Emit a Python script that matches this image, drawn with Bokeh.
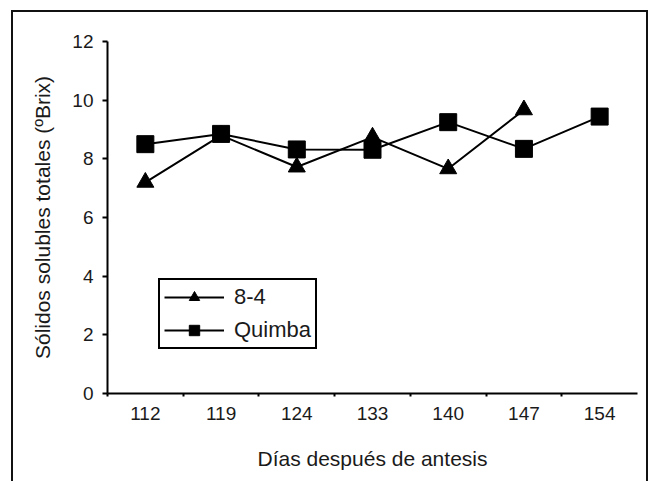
from bokeh.plotting import figure
from bokeh.models import FixedTicker, Legend, InlineStyleSheet
from bokeh.embed import file_html
from bokeh.resources import INLINE

categories = ["112", "119", "124", "133", "140", "147", "154"]
serie_84 = [7.2, 8.8, 7.72, 8.74, 7.66, 9.67]
serie_quimba = [8.5, 8.85, 8.32, 8.31, 9.25, 8.34, 9.44]
y_ticks = [0, 2, 4, 6, 8, 10, 12]

FONT = "Liberation Sans"

pos_all = [i + 0.5 for i in range(len(categories))]
pos_84 = pos_all[:len(serie_84)]

frame_css = InlineStyleSheet(css="""
:host { position: relative; }
:host::after {
  content: "";
  position: absolute;
  left: 11px; top: 10px; right: 0px; bottom: -4px;
  border: 2px solid #111;
  border-bottom: none;
  pointer-events: none;
  z-index: 10;
}
""")

p = figure(width=648, height=477, output_backend="svg", toolbar_location=None,
           x_range=(0, len(categories)), y_range=(0, 12),
           min_border_left=107, min_border_right=11, min_border_top=41, min_border_bottom=84,
           stylesheets=[frame_css])
p.outline_line_color = None
p.grid.grid_line_color = None
p.background_fill_color = "white"
p.border_fill_color = "white"

l1 = p.line(pos_84, serie_84, line_color="black", line_width=2)
m1 = p.scatter(pos_84, serie_84, marker="triangle", size=17, color="black")
l2 = p.line(pos_all, serie_quimba, line_color="black", line_width=2)
m2 = p.scatter(pos_all, serie_quimba, marker="square", size=17, color="black")

xt = FixedTicker(ticks=pos_all, minor_ticks=list(range(0, len(categories))))
p.xaxis.ticker = xt
p.xaxis.major_label_overrides = {pos_all[i]: c for i, c in enumerate(categories)}
p.xaxis.major_tick_line_color = None
p.xaxis.minor_tick_line_color = "black"
p.xaxis.minor_tick_line_width = 2
p.xaxis.minor_tick_in = 0
p.xaxis.minor_tick_out = 3
p.xaxis.axis_label = "Días después de antesis"

p.yaxis.ticker = FixedTicker(ticks=y_ticks, minor_ticks=[])
p.yaxis.major_tick_in = 0
p.yaxis.major_tick_out = 5
p.yaxis.axis_label = "Sólidos solubles totales (ºBrix)"

for ax in (p.xaxis[0], p.yaxis[0]):
    ax.axis_line_width = 2
    ax.axis_line_color = "black"
    ax.major_tick_line_width = 2
    ax.major_label_text_font = FONT
    ax.major_label_text_font_size = "19px"
    ax.major_label_text_color = "#1a1a1a"
    ax.major_label_standoff = 9
    ax.axis_label_text_font = FONT
    ax.axis_label_text_font_size = "21px"
    ax.axis_label_text_font_style = "normal"
    ax.axis_label_text_color = "#1a1a1a"
p.xaxis.major_label_standoff = 7
p.xaxis.axis_label_standoff = 24
p.yaxis.axis_label_standoff = 15

legend = Legend(items=[("8-4", [l1, m1]), ("Quimba", [l2, m2])],
                location=(51, 44), orientation="vertical")
legend.border_line_color = "black"
legend.border_line_alpha = 1.0
legend.border_line_width = 2
legend.background_fill_color = "white"
legend.background_fill_alpha = 1.0
legend.label_text_font = FONT
legend.label_text_font_size = "22px"
legend.label_text_color = "#1a1a1a"
legend.glyph_width = 60
legend.glyph_height = 26
legend.spacing = 7
legend.padding = 4
legend.label_standoff = 10
legend.margin = 0
p.add_layout(legend, "center")

open("out.html", "w").write(file_html(p, INLINE))
